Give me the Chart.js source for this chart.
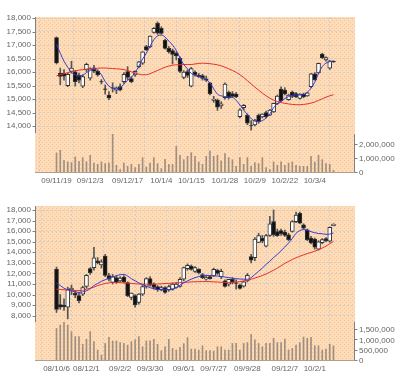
<html lang="ja">
<head>
<meta charset="UTF-8">
<title>Stock chart daily / weekly</title>
<script src="https://cdn.jsdelivr.net/npm/chart.js"></script>
<style>
  body { margin: 0; background: #fff; }
  .box { width: 400px; height: 188px; }
</style>
</head>
<body>
<div class="box"><canvas id="dailyChart" width="400" height="188"></canvas></div>
<div class="box"><canvas id="weeklyChart" width="400" height="188"></canvas></div>
<script>
// ---- daily (top) ----
const dayTickIdx = [0, 9, 19, 28, 36, 45, 53, 61, 69];
const dayTickLabels = ['09/11/19', '09/12/3', '09/12/17', '10/1/4', '10/1/15', '10/1/28', '10/2/9', '10/2/22', '10/3/4'];
const dayPriceTicks = [14000, 14500, 15000, 15500, 16000, 16500, 17000, 17500, 18000];
const dayVolTicks = [0, 1000000, 2000000];

const dayOpen = [17280,15960,15960,15500,16020,16010,15890,15480,16080,15770, 16160,16040,15650,15380,15150,15420,15330,15460,15640,16020,
  15760,15890,16200,16330,16940,16930,17470,17810,17620,17180, 16880,16800,16700,16510,15800,16020,15480,16000,15880,15870,
  15750,15600,14950,14960,14750,15050,15250,15200,15180,14350, 14680,14400,14020,14040,14400,14340,14500,14400,14520,14840,
  15370,15330,14980,15260,15200,15020,15180,15120,15460,15930, 15970,16670,16450,16140,16400];
const dayHigh = [17300,16150,16090,15960,16400,16060,15960,15900,16330,16160, 16250,16080,15720,15520,15280,15600,15450,15560,15980,16200,
  15830,16050,16400,16760,16990,17340,17650,17860,17680,17220, 16950,16850,16750,16560,16050,16080,16170,16050,15950,15920,
  15850,15620,15100,15000,14900,15600,15300,15280,15250,14650, 14800,14450,14200,14250,14450,14460,14550,14620,14850,15150,
  15450,15420,15180,15300,15250,15200,15220,15250,15950,15980, 16330,16700,16560,16430,16420];
const dayLow = [16300,15530,15700,15460,15960,15480,15600,15420,16020,15700, 15980,15850,15560,15180,14980,15260,15200,15300,15580,15720,
  15600,15840,16150,16280,16800,16900,17440,17400,17400,16850, 16700,16300,16450,15980,15750,15800,15450,15850,15800,15700,
  15650,15150,14880,14580,14650,15000,15000,15050,15050,14300, 14600,14050,13850,14000,14100,14300,14300,14380,14500,14800,
  14900,15150,14950,15050,15050,15000,15050,15100,15420,15700, 15950,16500,16400,16100,16360];
const dayClose = [16340,15840,15850,15920,16150,15640,15700,15830,16290,16120, 16030,15890,15630,15360,15040,15400,15420,15340,15920,15800,
  15640,16030,16380,16750,16820,17330,17620,17440,17430,16880, 16750,16650,16600,16020,16000,15880,16130,15900,15830,15760,
  15700,15200,15000,14700,14820,15550,15050,15100,15080,14600, 14770,14110,14000,14220,14150,14440,14340,14590,14840,15110,
  14930,15190,15150,15100,15080,15180,15080,15230,15930,15710, 16320,16530,16540,16420,16380];
const dayVol = [1430000,1620000,900000,790000,740000,1140000,830000,1100000,810000,1260000, 710000,620000,790000,670000,710000,2760000,550000,240000,710000,480000,
  620000,380000,620000,1100000,430000,710000,1100000,670000,310000,980000, 620000,620000,1900000,1260000,950000,1190000,1450000,1190000,790000,620000,
  1190000,1570000,1190000,1260000,860000,1380000,1100000,950000,480000,1100000, 620000,1100000,500000,740000,670000,1100000,380000,240000,790000,550000,
  790000,550000,710000,790000,550000,480000,480000,480000,1190000,790000, 1260000,950000,670000,620000,190000];
const dayMaShort = [17020,16700,16400,16180,15980,15900,15850,15880,15980,16060, 16110,16050,15900,15650,15480,15400,15380,15430,15550,15700,
  15800,15980,16220,16480,16700,16960,17200,17340,17370,17300, 17150,17000,16800,16520,16280,16120,15950,15880,15840,15790,
  15720,15600,15380,15180,15120,15090,15070,15060,14950,14780, 14600,14420,14280,14180,14170,14200,14300,14450,14680,14820,
  14920,15020,15090,15140,15150,15150,15160,15250,15400,15620, 15950,16200,16330,16380,16400];
const dayMaLong = [15860,15900,15940,15980,16010,16040,16070,16090,16110,16120, 16130,16140,16150,16150,16140,16130,16120,16110,16090,16060,
  16010,15960,15920,15900,15900,15940,16000,16060,16120,16180, 16220,16250,16270,16270,16280,16280,16280,16300,16320,16330,
  16320,16310,16290,16270,16230,16180,16120,16060,15990,15900, 15800,15680,15560,15440,15330,15220,15120,15030,14960,14910,
  14870,14840,14820,14800,14790,14790,14800,14820,14850,14890, 14950,15010,15070,15120,15160];

// ---- weekly (bottom) ----
const wkTickIdx = [0, 8, 17, 25, 34, 42, 51, 61, 69];
const wkTickLabels = ['08/10/6', '08/12/1', '09/2/2', '09/3/30', '09/6/1', '09/7/27', '09/9/28', '09/12/7', '10/2/1'];
const wkPriceTicks = [8000, 9000, 10000, 11000, 12000, 13000, 14000, 15000, 16000, 17000, 18000];
const wkVolTicks = [0, 500000, 1000000, 1500000];

const wkOpen = [12400,9050,9000,8800,10450,10150,9900,10040,10760,12450, 12540,13200,12800,13630,11800,11150,11600,11300,11650,11130,
  9730,9890,9260,10040,10760,11510,10980,10760,10450,10670, 10450,10510,10670,10760,11450,12440,12700,12200,12380,11900,
  11450,11700,11760,12300,11700,11290,10980,11450,11100,10890, 10800,11290,13600,13480,14940,15350,14570,15600,16910,15970,
  16050,15900,15660,15970,16900,17690,16600,16130,15350,15250, 14300,14900,15300,15040,16530];
const wkHigh = [12600,10000,9600,10700,10900,10400,10200,10800,11900,12550, 14480,13500,13300,13800,12000,11900,11800,11700,11800,11200,
  10150,10000,10100,10900,11600,11700,11100,10850,10800,10750, 10900,11100,11150,11600,12600,12900,12800,12650,12450,12000,
  11800,11800,12500,12400,12400,11400,11450,11600,11400,11000, 11300,12000,13800,15400,15800,15600,15700,17400,18000,16200,
  16200,16100,15800,17000,17800,17800,16700,16200,15500,15350, 15100,15300,15400,16400,16700];
const wkLow = [8300,8600,8500,7700,10000,9700,9200,9900,10600,11900, 12300,12900,12500,11700,11300,11000,11050,11200,11100,9800,
  9500,8800,9100,9900,10600,10800,10500,10300,10350,10100, 10300,10400,10600,10700,11300,12300,12300,12100,11950,11500,
  11350,11450,11700,11900,11500,10700,10800,11000,10500,10500, 10700,11200,13000,13200,14900,14900,14500,15500,15500,15500,
  15600,15500,15100,15900,16800,16700,16200,15100,14800,14300, 14200,14800,15000,14950,16500];
const wkClose = [8600,8800,8850,10500,10600,9950,9420,10670,11820,12070, 13470,13000,13100,11820,11450,11700,11150,11550,11200,9890,
  10140,9010,10040,10760,11510,10890,10670,10450,10670,10200, 10760,10980,10980,11450,12540,12760,12380,12540,12070,11600,
  11600,11500,12380,12000,12200,10760,11450,11150,11050,10580, 11200,11820,13250,15250,15570,15040,15570,16690,15660,15570,
  15750,15600,15190,16900,17530,16750,16280,15190,14880,14480, 14980,15200,15100,16350,16660];
const wkVol = [1580000,1740000,1870000,1740000,1420000,1180000,1180000,810000,1050000,1420000, 940000,530000,290000,850000,1150000,970000,970000,890000,850000,770000,
  940000,1020000,1180000,690000,970000,970000,1050000,810000,500000,690000, 1050000,610000,530000,660000,840000,1130000,580000,580000,530000,740000,
  500000,500000,480000,690000,690000,530000,530000,850000,850000,530000, 850000,890000,1290000,1020000,850000,690000,850000,850000,1100000,890000,
  890000,1060000,530000,610000,770000,890000,1160000,1100000,1150000,740000, 740000,530000,580000,810000,730000];
const wkMaShort = [11070,10850,10600,10450,10350,10250,10200,10250,10350,10550, 10850,11050,11250,11400,11550,11650,11780,11880,11900,11750,
  11500,11300,11100,10950,10800,10650,10550,10480,10450,10440, 10460,10500,10650,10900,11100,11300,11450,11600,11700,11780,
  11820,11800,11780,11750,11700,11650,11600,11550,11500,11470, 11450,11450,11600,11900,12200,12500,12850,13150,13500,13800,
  14150,14500,14880,15300,15800,16050,16150,16100,15950,15850, 15780,15750,15700,15720,15820];
const wkMaLong = [10500,10480,10450,10420,10400,10380,10370,10400,10500,10600, 10700,10850,10950,11050,11100,11150,11150,11130,11100,11080,
  11050,11020,11000,10980,10980,10980,10990,11000,11020,11040, 11060,11080,11100,11120,11150,11170,11200,11210,11220,11230,
  11230,11220,11200,11180,11160,11150,11150,11160,11180,11220, 11280,11350,11450,11560,11680,11800,11950,12120,12300,12500,
  12720,12950,13130,13320,13480,13620,13750,13880,13980,14100, 14250,14400,14580,14800,15030];

const gridColor = 'rgba(205,205,205,0.9)';
const labelColor = '#666';

function peachPattern(ctx) {
  const c = document.createElement('canvas');
  c.width = 4; c.height = 4;
  const g = c.getContext('2d');
  g.fillStyle = '#fddcb7';
  g.fillRect(0, 0, 4, 4);
  g.fillStyle = '#f6c29c';
  g.fillRect(0, 0, 1, 1);
  g.fillRect(2, 2, 1, 1);
  return ctx.createPattern(c, 'repeat');
}

// background of the plot + the short axis lines (price up, volume down)
const framePlugin = {
  id: 'frame',
  beforeDraw(chart) {
    const { ctx, chartArea: a } = chart;
    ctx.save();
    ctx.fillStyle = peachPattern(ctx);
    ctx.fillRect(a.left, a.top, a.right - a.left, a.bottom - a.top);
    ctx.restore();
  },
  afterDraw(chart, args, opts) {
    const { ctx, chartArea: a, scales } = chart;
    const y = scales.y, yv = scales.yv;
    ctx.save();
    ctx.strokeStyle = '#808080';
    ctx.lineWidth = 1;
    ctx.beginPath();
    const lx = Math.round(a.left) + 0.5;
    ctx.moveTo(lx, a.top);
    ctx.lineTo(lx, y.getPixelForValue(opts.priceLow));
    y.ticks.forEach(t => {
      const py = Math.round(y.getPixelForValue(t.value)) + 0.5;
      ctx.moveTo(lx - 3, py); ctx.lineTo(lx, py);
    });
    const rx = Math.round(a.right) - 0.5;
    ctx.moveTo(rx, yv.getPixelForValue(opts.volHigh));
    ctx.lineTo(rx, a.bottom);
    yv.ticks.forEach(t => {
      const py = Math.round(yv.getPixelForValue(t.value)) - 0.5;
      ctx.moveTo(rx, py); ctx.lineTo(rx + 3, py);
    });
    ctx.stroke();
    ctx.strokeStyle = '#b0a090';
    ctx.beginPath();
    ctx.moveTo(a.left, Math.round(a.bottom) - 0.5);
    ctx.lineTo(a.right, Math.round(a.bottom) - 0.5);
    ctx.stroke();
    ctx.restore();
  }
};

function makeChart(id, s) {
  const bodies = s.open.map((o, i) => ({ x: i, y: [s.open[i], s.close[i]] }));
  const wicks = s.open.map((o, i) => ({ x: i, y: [s.low[i], s.high[i]] }));
  const bodyFill = s.open.map((o, i) => s.close[i] >= o ? '#ffffff' : '#111111');
  const font8 = { family: 'Liberation Sans', size: 8 };

  return new Chart(document.getElementById(id), {
    type: 'bar',
    data: {
      datasets: [
        { type: 'line', data: s.maShort.map((v, i) => ({ x: i, y: v })), borderColor: '#3a3ad4', borderWidth: 1,
          pointRadius: 0, cubicInterpolationMode: 'monotone', yAxisID: 'y' },
        { type: 'line', data: s.maLong.map((v, i) => ({ x: i, y: v })), borderColor: '#e8302a', borderWidth: 1,
          pointRadius: 0, cubicInterpolationMode: 'monotone', yAxisID: 'y' },
        { data: bodies, backgroundColor: bodyFill, borderColor: '#333', borderWidth: 1, borderSkipped: false,
          barThickness: 4, grouped: false, yAxisID: 'y' },
        { data: wicks, backgroundColor: '#555', barThickness: 1, grouped: false, yAxisID: 'y' },
        { data: s.vol.map((v, i) => ({ x: i, y: v })), backgroundColor: '#a08f7f', barThickness: 1,
          grouped: false, yAxisID: 'yv' }
      ]
    },
    options: {
      responsive: false,
      animation: false,
      layout: { padding: { top: s.padTop, left: 0, right: 0, bottom: 0 } },
      plugins: {
        legend: { display: false },
        tooltip: { enabled: false },
        frame: { priceLow: s.priceLow, volHigh: s.volHigh }
      },
      scales: {
        x: {
          type: 'linear', min: -1, max: s.open.length,
          afterBuildTicks: sc => { sc.ticks = s.tickIdx.map(v => ({ value: v })); },
          afterFit: sc => { sc.height = 15; },
          ticks: { callback: (v, i) => s.tickLabels[i], autoSkip: false, maxRotation: 0, padding: 3,
                   color: labelColor, font: font8 },
          grid: { color: gridColor, drawTicks: false },
          border: { display: false, dash: [2, 2] }
        },
        y: {
          position: 'left', min: s.priceMin, max: s.priceMax,
          afterBuildTicks: sc => { sc.ticks = s.priceTicks.map(v => ({ value: v })); },
          afterFit: sc => { sc.width = 35; },
          ticks: { callback: v => v.toLocaleString('en-US'), padding: 4, color: labelColor, font: font8 },
          grid: { color: gridColor, drawTicks: false },
          border: { display: false, dash: [2, 2] }
        },
        yv: {
          position: 'right', min: 0, max: s.volMax,
          afterBuildTicks: sc => { sc.ticks = s.volTicks.map(v => ({ value: v })); },
          afterFit: sc => { sc.width = 45; },
          ticks: { callback: v => v.toLocaleString('en-US'), padding: 4, color: labelColor, font: font8 },
          grid: { display: false, drawTicks: false },
          border: { display: false }
        }
      }
    },
    plugins: [framePlugin]
  });
}

makeChart('dailyChart', {
  open: dayOpen, high: dayHigh, low: dayLow, close: dayClose, vol: dayVol,
  maShort: dayMaShort, maLong: dayMaLong,
  tickIdx: dayTickIdx, tickLabels: dayTickLabels, priceTicks: dayPriceTicks, volTicks: dayVolTicks,
  priceMin: 12260, priceMax: 18040, volMax: 11140000, priceLow: 13740, volHigh: 2780000, padTop: 17
});

makeChart('weeklyChart', {
  open: wkOpen, high: wkHigh, low: wkLow, close: wkClose, vol: wkVol,
  maShort: wkMaShort, maLong: wkMaLong,
  tickIdx: wkTickIdx, tickLabels: wkTickLabels, priceTicks: wkPriceTicks, volTicks: wkVolTicks,
  priceMin: 3710, priceMax: 18380, volMax: 7500000, priceLow: 7400, volHigh: 1900000, padTop: 18
});
</script>
</body>
</html>
